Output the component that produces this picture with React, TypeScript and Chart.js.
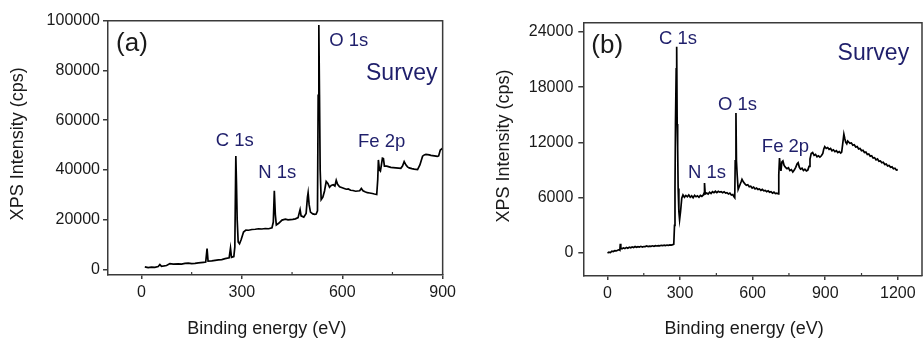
import { useEffect, useRef } from 'react';
import { Chart, registerables } from 'chart.js';

Chart.register(...registerables);

const FONT = '"Liberation Sans", Arial, Helvetica, sans-serif';
const NAVY = '#1f1f6b';
const INK = '#1a1a1a';
const AXIS = '#3a3a3a';

const X_TITLE = 'Binding energy (eV)';
const Y_TITLE = 'XPS Intensity (cps)';

// ---------- Panel (a) ----------
const energyA = [
  10, 20, 30, 40, 50, 55, 60, 75, 85, 95, 110, 120, 130, 140, 150, 160, 170, 185, 192, 196,
  199, 210, 220, 230, 240, 250, 262, 266, 269, 276, 279, 282, 284, 286, 289, 293, 298, 305, 312, 320,
  330, 340, 350, 360, 370, 380, 390, 394, 397, 400, 403, 410, 420, 430, 438, 445, 452, 460, 468, 472,
  474, 477, 485, 492, 496, 498, 501, 505, 512, 518, 522, 526, 528, 530, 532, 534, 537, 542, 547, 552,
  557, 562, 567, 573, 578, 582, 586, 592, 600, 606, 612, 618, 625, 632, 640, 646, 652, 657, 662, 668,
  675, 682, 690, 696, 703, 706, 708, 711, 714, 717, 720, 723, 726, 733, 740, 745, 752, 760, 768, 775,
  780, 785, 790, 795, 800, 808, 815, 825, 832, 840, 845, 850, 855, 860, 865, 870, 875, 880, 884, 888,
  893, 900,
];
const intensityA = [
  1000, 700, 900, 800, 1100, 1900, 1200, 1500, 2300, 2100, 2200, 2100, 2400, 2500, 2300, 2400, 2600, 2800, 2900, 8300,
  3300, 3400, 3600, 3800, 3900, 4300, 4600, 8500, 4800, 5100, 9000, 45600, 34000, 20000, 11000, 10300, 12000, 15000, 15800, 15700,
  16000, 16100, 16300, 16200, 16400, 16300, 16700, 19000, 31600, 22000, 17800, 18500, 19800, 20200, 19900, 20000, 20100, 20300, 20800, 23000,
  24000, 21500, 21000, 22500, 29000, 30800, 26000, 23000, 22300, 22100, 22200, 23500, 70000, 98300, 70000, 40000, 28000, 29000, 31500, 35300,
  34500, 33000, 33700, 34000, 33500, 35800, 34200, 33200, 32800, 32500, 32200, 32300, 31800, 31700, 31400, 31500, 31600, 32500, 31600, 31200,
  30800, 30700, 30500, 30300, 30100, 36000, 44000, 40000, 39500, 42000, 44700, 44500, 41500, 41500, 41200, 41000, 40900, 40800, 40700, 40600,
  41500, 43300, 42000, 41200, 40800, 40500, 40300, 40100, 42000, 45500, 46000, 46200, 46100, 46000, 45800, 45700, 45600, 45500, 45400, 45600,
  48000, 48700,
];
const xTicksA = [0, 300, 600, 900];
const xMinorA = [150, 450, 750];
const yTicksA = [0, 20000, 40000, 60000, 80000, 100000];

// ---------- Panel (b) ----------
const energyB = [
  0, 6, 12, 18, 24, 30, 36, 42, 48, 51, 53, 55, 60, 66, 72, 78, 84, 90, 96, 102,
  108, 114, 120, 126, 132, 138, 144, 150, 156, 162, 168, 174, 180, 186, 192, 198, 204, 210, 216, 222,
  228, 234, 240, 246, 252, 258, 264, 270, 274, 277, 279, 281, 284, 286, 288, 290, 292, 295, 298, 302,
  307, 312, 318, 324, 330, 336, 342, 348, 354, 360, 366, 372, 378, 384, 390, 396, 399, 401, 404, 410,
  416, 422, 428, 434, 440, 446, 452, 458, 464, 470, 476, 482, 488, 494, 500, 506, 512, 518, 523, 526,
  528, 531, 533, 536, 540, 546, 552, 556, 562, 568, 574, 580, 586, 592, 598, 604, 610, 616, 622, 628,
  634, 640, 646, 652, 658, 664, 670, 676, 682, 688, 694, 700, 706, 708, 711, 714, 717, 721, 725, 730,
  736, 742, 748, 754, 760, 766, 772, 778, 784, 788, 793, 798, 804, 810, 816, 822, 828, 833, 837, 842,
  848, 854, 860, 866, 872, 878, 884, 890, 894, 898, 904, 910, 916, 922, 928, 934, 940, 946, 952, 958,
  964, 968, 972, 977, 981, 985, 989, 993, 997, 1002, 1008, 1014, 1020, 1026, 1032, 1038, 1044, 1050, 1056, 1062,
  1068, 1074, 1080, 1086, 1092, 1098, 1104, 1110, 1116, 1122, 1128, 1134, 1140, 1146, 1152, 1158, 1164, 1170, 1176, 1182,
  1188, 1194, 1200,
];
const intensityB = [
  0, 80, 50, 200, 150, 250, 220, 300, 350, 300, 1000, 500, 450, 550, 480, 600, 520, 620, 560, 650,
  600, 700, 610, 680, 640, 720, 650, 700, 690, 760, 700, 740, 720, 780, 730, 800, 760, 790, 770, 830,
  790, 840, 800, 860, 830, 880, 850, 900, 950, 3000, 7200, 14000, 20000, 22400, 14000, 11500, 7000, 4500, 3600, 4500,
  5950, 6300, 6050, 6250, 6100, 6300, 6050, 6200, 6000, 6250, 6100, 6200, 6050, 6250, 6150, 6300, 6500, 7600, 6400, 6500,
  6400, 6600, 6450, 6650, 6550, 6700, 6550, 6700, 6600, 6650, 6550, 6650, 6500, 6550, 6400, 6500, 6300, 6350, 6100, 6000,
  10000, 15200, 10000, 8500, 6900, 7300, 7700, 8000, 7700, 7500, 7350, 7400, 7200, 7250, 7050, 7150, 6950, 7050, 6900, 6950,
  6800, 6900, 6750, 6800, 6650, 6750, 6600, 6650, 6500, 6600, 6450, 6500, 6400, 8500, 10300, 9500, 8900, 9900, 10000, 9500,
  9300, 9150, 9250, 8950, 9050, 8800, 9000, 9300, 9700, 9800, 9300, 9100, 9200, 8950, 9100, 8900, 9000, 9400, 10200, 10800,
  10900, 10600, 10700, 10450, 10550, 10400, 10550, 10800, 11300, 11550, 11350, 11450, 11250, 11350, 11100, 11200, 11000, 11100, 10900, 11000,
  10850, 10950, 11800, 12900, 12400, 12000, 11850, 12150, 12050, 11900, 11950, 11700, 11750, 11500, 11550, 11300, 11350, 11100, 11150, 10900,
  10950, 10700, 10750, 10500, 10550, 10300, 10350, 10100, 10200, 9950, 10000, 9800, 9850, 9600, 9650, 9450, 9500, 9300, 9350, 9150,
  9200, 9000, 9050,
];
const xTicksB = [0, 300, 600, 900, 1200];
const xMinorB = [150, 450, 750, 1050];
const yTicksB = [0, 6000, 12000, 18000, 24000];

type Note = { text: string; x: number; y: number; size: number; color: string };
type Panel = {
  energy: number[];
  intensity: number[];
  xMin: number; xMax: number; yMin: number; yMax: number;
  xTicks: number[]; xMinor: number[]; yTicks: number[];
  width: number;
  area: { left: number; right: number; top: number; bottom: number };
  yPad: number;
  yTitleX: number; yTitleShift: number; xTitleShift: number; xTitleY: number;
  notes: Note[];
};

const panelA: Panel = {
  energy: energyA, intensity: intensityA,
  xMin: -100, xMax: 900, yMin: -2300, yMax: 100000,
  xTicks: xTicksA, xMinor: xMinorA, yTicks: yTicksA,
  width: 460,
  area: { left: 108, right: 447, top: 20.7, bottom: 275 },
  yPad: 3,
  yTitleX: 18, yTitleShift: -4, xTitleShift: -8.5, xTitleY: 329,
  notes: [
    { text: '(a)', x: -76, y: 87850, size: 26, color: INK },
    { text: 'C 1s', x: 222, y: 49400, size: 18.5, color: NAVY },
    { text: 'N 1s', x: 349, y: 36700, size: 18.5, color: NAVY },
    { text: 'O 1s', x: 561, y: 89660, size: 18.5, color: NAVY },
    { text: 'Fe 2p', x: 647, y: 49300, size: 18.5, color: NAVY },
    { text: 'Survey', x: 671, y: 76180, size: 23, color: NAVY },
  ],
};

const panelB: Panel = {
  energy: energyB, intensity: intensityB,
  xMin: -100, xMax: 1300, yMin: -2500, yMax: 25000,
  xTicks: xTicksB, xMinor: xMinorB, yTicks: yTicksB,
  width: 463,
  area: { left: 123.3, right: 462, top: 22.7, bottom: 276 },
  yPad: 5,
  yTitleX: 43.8, yTitleShift: -3.3, xTitleShift: -8.5, xTitleY: 329,
  notes: [
    { text: '(b)', x: -67, y: 21750, size: 26, color: INK },
    { text: 'C 1s', x: 213, y: 22670, size: 18.5, color: NAVY },
    { text: 'N 1s', x: 333, y: 8155, size: 18.5, color: NAVY },
    { text: 'O 1s', x: 457, y: 15575, size: 18.5, color: NAVY },
    { text: 'Fe 2p', x: 638, y: 10990, size: 18.5, color: NAVY },
    { text: 'Survey', x: 951, y: 20935, size: 23, color: NAVY },
  ],
};

function makeDecor(p: Panel) {
  return {
    id: 'decor',
    afterDraw(chart: any) {
      const { ctx, chartArea: a, scales } = chart;
      const xs = scales.x;
      const ys = scales.y;
      ctx.save();
      // frame: top and right
      ctx.strokeStyle = AXIS;
      ctx.lineWidth = 1.5;
      ctx.beginPath();
      ctx.moveTo(a.left, a.top);
      ctx.lineTo(a.right, a.top);
      ctx.lineTo(a.right, a.bottom);
      ctx.stroke();
      // minor ticks (inward)
      ctx.lineWidth = 1.2;
      ctx.beginPath();
      for (const v of p.xMinor) {
        const px = xs.getPixelForValue(v);
        ctx.moveTo(px, a.bottom);
        ctx.lineTo(px, a.bottom - 3);
      }
      ctx.stroke();
      // annotations
      ctx.textAlign = 'left';
      ctx.textBaseline = 'alphabetic';
      for (const n of p.notes) {
        ctx.font = `${n.size}px ${FONT}`;
        ctx.fillStyle = n.color;
        ctx.fillText(n.text, xs.getPixelForValue(n.x), ys.getPixelForValue(n.y));
      }
      // axis titles
      ctx.font = `18px ${FONT}`;
      ctx.fillStyle = INK;
      ctx.textAlign = 'center';
      ctx.textBaseline = 'middle';
      ctx.fillText(X_TITLE, (a.left + a.right) / 2 + p.xTitleShift, p.xTitleY);
      ctx.save();
      ctx.translate(p.yTitleX, (a.top + a.bottom) / 2 + p.yTitleShift);
      ctx.rotate(-Math.PI / 2);
      ctx.fillText(Y_TITLE, 0, 0);
      ctx.restore();
      ctx.restore();
    },
  };
}

function SpectrumPanel({ p, left }: { p: Panel; left: number }) {
  const ref = useRef<HTMLCanvasElement | null>(null);
  useEffect(() => {
    if (!ref.current) return;
    const pts = p.energy.map((e, i) => ({ x: e, y: p.intensity[i] }));
    const chart = new Chart(ref.current, {
      type: 'line',
      data: {
        datasets: [
          {
            data: pts,
            borderColor: '#000',
            borderWidth: 1.7,
            pointRadius: 0,
            tension: 0,
            fill: false,
          },
        ],
      },
      options: {
        animation: false,
        responsive: false,
        events: [],
        layout: {
          autoPadding: false,
          padding: { left: 0, top: p.area.top, right: p.width - p.area.right, bottom: 0 },
        },
        plugins: { legend: { display: false }, tooltip: { enabled: false }, title: { display: false } },
        scales: {
          x: {
            type: 'linear',
            min: p.xMin,
            max: p.xMax,
            afterBuildTicks: (s: any) => {
              s.ticks = p.xTicks.map((v) => ({ value: v }));
            },
            afterFit: (s: any) => {
              s.height = 342 - p.area.bottom;
            },
            ticks: {
              autoSkip: false,
              maxRotation: 0,
              padding: 4,
              color: INK,
              font: { family: FONT, size: 16 },
              callback: (v: any) => String(v),
            },
            grid: { display: true, drawOnChartArea: false, drawTicks: true, tickLength: 4, color: AXIS, lineWidth: 1.5 },
            border: { display: true, color: AXIS, width: 1.5 },
          },
          y: {
            type: 'linear',
            min: p.yMin,
            max: p.yMax,
            afterBuildTicks: (s: any) => {
              s.ticks = p.yTicks.map((v) => ({ value: v }));
            },
            afterFit: (s: any) => {
              s.width = p.area.left;
            },
            ticks: {
              autoSkip: false,
              padding: p.yPad,
              color: INK,
              font: { family: FONT, size: 16 },
              callback: (v: any) => String(v),
            },
            grid: { display: true, drawOnChartArea: false, drawTicks: true, tickLength: 5, color: AXIS, lineWidth: 1.5 },
            border: { display: true, color: AXIS, width: 1.5 },
          },
        },
      },
      plugins: [makeDecor(p)],
    } as any);
    return () => chart.destroy();
  }, [p]);
  return (
    <canvas
      ref={ref}
      width={p.width}
      height={342}
      style={{ position: 'absolute', left, top: 0, width: p.width, height: 342 }}
    />
  );
}

export default function App() {
  return (
    <div style={{ position: 'absolute', left: 0, top: 0, width: 923, height: 342, background: '#fff' }}>
      <SpectrumPanel p={panelA} left={0} />
      <SpectrumPanel p={panelB} left={460} />
    </div>
  );
}
